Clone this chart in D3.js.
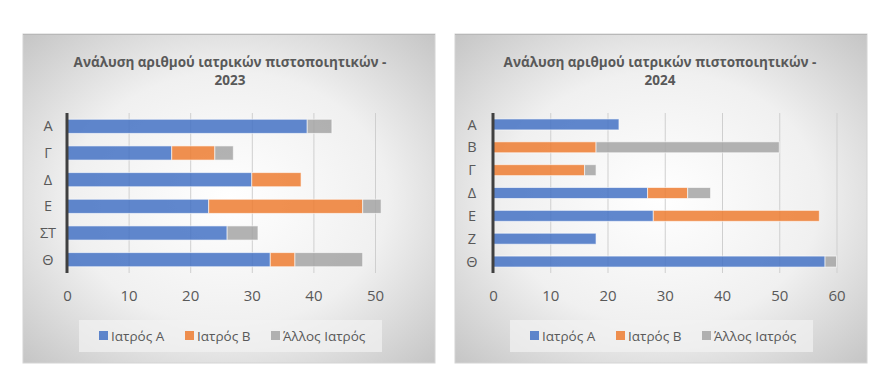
<!DOCTYPE html>
<html><head><meta charset="utf-8">
<script src="https://cdn.jsdelivr.net/npm/d3@7"></script>
<style>body{margin:0;background:#fff;} svg{display:block;font-family:"Open Sans",sans-serif;}</style>
</head><body>
<svg id="c" width="886" height="379"></svg>
<script>
const series = ["Ιατρός Α", "Ιατρός Β", "Άλλος Ιατρός"];
const colors = ["#4472C4", "#ED7D31", "#A5A5A5"];

const cats2023 = ["Α", "Γ", "Δ", "Ε", "ΣΤ", "Θ"];
const docA2023 = [39, 17, 30, 23, 26, 33];
const docB2023 = [0, 7, 8, 25, 0, 4];
const other2023 = [4, 3, 0, 3, 5, 11];
const ticks2023 = [0, 10, 20, 30, 40, 50];

const cats2024 = ["Α", "Β", "Γ", "Δ", "Ε", "Ζ", "Θ"];
const docA2024 = [22, 0, 0, 27, 28, 18, 58];
const docB2024 = [0, 18, 16, 7, 29, 0, 0];
const other2024 = [0, 32, 2, 4, 0, 0, 2];
const ticks2024 = [0, 10, 20, 30, 40, 50, 60];

const svg = d3.select("#c");
const defs = svg.append("defs");
const rg = defs.append("radialGradient").attr("id","bg").attr("cx","50%").attr("cy","50%").attr("r","70%");
rg.append("stop").attr("offset","0%").attr("stop-color","#ffffff");
rg.append("stop").attr("offset","55%").attr("stop-color","#f0f0f0");
rg.append("stop").attr("offset","100%").attr("stop-color","#c6c6c6");

function chart(o) {
  const g = svg.append("g");
  g.append("rect").attr("x", o.px).attr("y", 34).attr("width", o.pw).attr("height", 329)
    .attr("fill", "url(#bg)").attr("stroke", "#d4d4d4").attr("stroke-width", 1);
  g.append("line").attr("x1", o.px).attr("x2", o.px + o.pw).attr("y1", 34.5).attr("y2", 34.5)
    .attr("stroke", "#b8b8b8").attr("stroke-width", 1);

  const title = g.append("text").attr("text-anchor", "middle")
    .attr("font-size", 13.5).attr("font-weight", "bold").attr("fill", "#595959");
  title.append("tspan").attr("x", o.tx).attr("y", 67).text("Ανάλυση αριθμού ιατρικών πιστοποιητικών -");
  title.append("tspan").attr("x", o.tx).attr("y", 85).text(o.year);

  const x = d3.scaleLinear().domain([0, o.max]).range([o.x0, o.x1]);
  const y = d3.scaleBand().domain(o.cats).range([113, 273]).paddingInner(o.pad).paddingOuter(o.pad / 2);

  const grid = g.append("g").attr("transform", "translate(0,113)")
    .call(d3.axisBottom(x).tickValues(o.ticks).tickSize(160).tickFormat(""));
  grid.select(".domain").remove();
  grid.selectAll(".tick line").attr("stroke", "#cfcfcf").attr("stroke-width", 1);

  const rows = o.cats.map((c, i) => ({ cat: c, v: [o.a[i], o.b[i], o.c[i]] }));
  const stack = d3.stack().keys([0, 1, 2]).value((d, k) => d.v[k])(rows);
  stack.forEach((s, k) => {
    g.append("g").selectAll("rect").data(s).join("rect")
      .attr("x", d => x(d[0])).attr("width", d => Math.max(0, x(d[1]) - x(d[0])))
      .attr("y", d => y(d.data.cat)).attr("height", y.bandwidth())
      .attr("fill", colors[k]).attr("fill-opacity", 0.85)
      .attr("stroke", "#ffffff").attr("stroke-opacity", 0.6).attr("stroke-width", 1)
      .style("display", d => d[1] - d[0] > 0 ? null : "none");
  });

  g.append("line").attr("x1", o.x0).attr("x2", o.x0).attr("y1", 113).attr("y2", 273)
    .attr("stroke", "#404040").attr("stroke-width", 3);

  const xa = g.append("g").attr("transform", "translate(0,273)")
    .call(d3.axisBottom(x).tickValues(o.ticks).tickSize(0).tickPadding(17));
  xa.select(".domain").remove();
  xa.selectAll("text").attr("font-size", 15).attr("fill", "#595959").attr("font-family", "Open Sans");

  g.append("g").selectAll("text").data(o.cats).join("text")
    .attr("x", o.cx).attr("y", d => y(d) + y.bandwidth() / 2).attr("dy", "0.35em")
    .attr("text-anchor", "middle").attr("font-size", 14.5).attr("fill", "#595959").text(d => d);

  g.append("rect").attr("x", o.lx).attr("y", 320).attr("width", 303).attr("height", 32)
    .attr("fill", "#f2f2f2").attr("fill-opacity", 0.7);
  const lg = g.append("g");
  const offs = [0, 86, 172];
  series.forEach((s, k) => {
    const lx = o.lx + 20 + offs[k];
    lg.append("rect").attr("x", lx).attr("y", 331).attr("width", 9).attr("height", 9).attr("fill", colors[k]).attr("fill-opacity", 0.85);
    lg.append("text").attr("x", lx + 12).attr("y", 336).attr("dy", "0.35em")
      .attr("font-size", 13.5).attr("fill", "#595959").text(s);
  });
}

chart({ px: 23, pw: 412, tx: 230, year: "2023", x0: 67, x1: 375, max: 50, cats: cats2023,
  a: docA2023, b: docB2023, c: other2023, ticks: ticks2023, pad: 0.47, cx: 48, lx: 79 });
chart({ px: 455, pw: 412, tx: 660, year: "2024", x0: 493, x1: 836.5, max: 60, cats: cats2024,
  a: docA2024, b: docB2024, c: other2024, ticks: ticks2024, pad: 0.52, cx: 472, lx: 510 });
</script>
</body></html>
